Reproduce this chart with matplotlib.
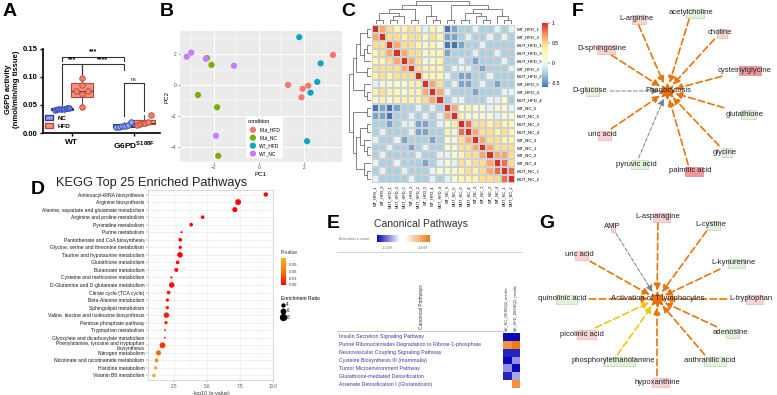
import numpy as np
import matplotlib
matplotlib.use("Agg")
import matplotlib.pyplot as plt
from matplotlib.colors import LinearSegmentedColormap, TwoSlopeNorm
from matplotlib.patches import Patch, Rectangle
from matplotlib.lines import Line2D
from matplotlib.transforms import blended_transform_factory

plt.rcParams['font.family'] = ['Liberation Sans', 'DejaVu Sans']
plt.rcParams['mathtext.fontset'] = 'custom'
plt.rcParams['mathtext.rm'] = 'Liberation Sans'
plt.rcParams['mathtext.bf'] = 'Liberation Sans:bold'

W, H = 777, 395

# ---------------- data ----------------
# A: G6PD activity
a_categories = ['WT', 'G6PD$^{\\mathbf{S188F}}$']
a_wt_nc = [0.041, 0.042, 0.043, 0.043, 0.044, 0.045]
a_wt_hfd = [0.046, 0.070, 0.075, 0.075, 0.086, 0.099]
a_mut_nc = [0.010, 0.011, 0.012, 0.012, 0.015, 0.020]
a_mut_hfd = [0.015, 0.016, 0.017, 0.018, 0.020, 0.033]

# B: PCA
b_conditions = ['Mut_HFD', 'Mut_NC', 'WT_HFD', 'WT_NC']
mut_hfd_pc1 = [3.3, 1.3, 1.95, 2.2, 1.9]
mut_hfd_pc2 = [1.95, 0.0, -0.25, -0.05, -0.8]
mut_nc_pc1 = [-2.3, -2.1, -2.7, -1.85, -1.8]
mut_nc_pc2 = [1.75, 1.3, -0.65, -1.45, -4.6]
wt_hfd_pc1 = [1.8, 2.75, 2.6, 2.3, 2.15]
wt_hfd_pc2 = [3.1, 1.4, 0.2, -0.5, -3.65]
wt_nc_pc1 = [-3.2, -3.0, -1.1, -1.9, -2.35]
wt_nc_pc2 = [1.83, 2.1, 1.25, -3.3, 1.7]

c_samples = ['WT_HFD_1', 'WT_HFD_3', 'MUT_HFD_1', 'MUT_HFD_3', 'MUT_HFD_5', 'WT_HFD_2',
             'MUT_HFD_2', 'WT_HFD_5', 'WT_HFD_4', 'MUT_HFD_4', 'WT_NC_5', 'MUT_NC_5',
             'MUT_NC_3', 'MUT_NC_4', 'WT_NC_3', 'WT_NC_1', 'WT_NC_2', 'WT_NC_4',
             'MUT_NC_1', 'MUT_NC_2']
c_levels = [
    "97655653540122322323",
    "79666646551123223232",
    "66976654540012232222",
    "56797664551222322322",
    "55679764452232122232",
    "66667965552333212223",
    "56566695553211223222",
    "34444559762311232122",
    "56554557973322122233",
    "45455556792332223322",
    "01012232329745443443",
    "11022323237954444344",
    "22123311234598665656",
    "23222311225489766565",
    "32231222124467976655",
    "22322123224466797666",
    "23222232233456679766",
    "32232221234365667976",
    "23223222344456567898",
    "32222322323455566689",
]
c_tree = (((((0, 1), ((2, 3), 4)), (5, 6)), (7, (8, 9))),
          ((10, 11), (((12, 13), (14, (15, 16))), (17, (18, 19)))))

# D: KEGG enrichment
d_pathways = ['Aminoacyl-tRNA biosynthesis', 'Arginine biosynthesis',
              'Alanine, aspartate and glutamate metabolism', 'Arginine and proline metabolism',
              'Pyrimidine metabolism', 'Purine metabolism', 'Pantothenate and CoA biosynthesis',
              'Glycine, serine and threonine metabolism', 'Taurine and hypotaurine metabolism',
              'Glutathione metabolism', 'Butanoate metabolism', 'Cysteine and methionine metabolism',
              'D-Glutamine and D-glutamate metabolism', 'Citrate cycle (TCA cycle)',
              'Beta-Alanine metabolism', 'Sphingolipid metabolism',
              'Valine, leucine and isoleucine biosynthesis', 'Pentose phosphate pathway',
              'Tryptophan metabolism', 'Glyoxylate and dicarboxylate metabolism',
              'Phenylalanine, tyrosine and tryptophan\nbiosynthesis', 'Nitrogen metabolism',
              'Nicotinate and nicotinamide metabolism', 'Histidine metabolism',
              'Vitamin B6 metabolism']
d_neglogp = [9.45, 7.35, 7.1, 4.65, 3.78, 3.05, 2.95, 2.95, 2.93, 2.75, 2.65, 2.28, 2.3,
             2.07, 1.97, 1.97, 1.9, 1.87, 1.8, 1.77, 1.6, 1.3, 1.15, 1.08, 0.95]
d_ratio = [6, 8, 7, 5, 5, 3, 5, 4.5, 7.5, 5, 5.5, 3, 7.5, 5, 4.5, 4.5, 7.5, 4.5, 2.5, 2.5,
           8, 7, 5, 4, 5]

# E: IPA canonical pathways
e_pathways = ['Insulin Secretion Signaling Pathway',
              'Purine Ribonucleosides Degradation to Ribose-1-phosphate',
              'Neurovascular Coupling Signaling Pathway', 'Cysteine Biosynthesis III (mammalia)',
              'Tumor Microenvironment Pathway', 'Glutathione-mediated Detoxification',
              'Arsenate Detoxification I (Glutaredoxin)']
e_columns = ['Val_NC_DESEQ2_results', 'Val_HFD_DESEQ2_results']
e_nc = [-2.236, 2.0, -2.0, -2.236, -1.0, -2.0, np.nan]
e_hfd = [-2.236, 2.449, -2.0, -1.0, -2.236, -0.8, 2.0]

# F / G: networks
f_hub = 'Phagocytosis'
f_nodes = ['L-arginine', 'acetylcholine', 'choline', 'D-sphingosine', 'cysteinylglycine',
           'D-glucose', 'glutathione', 'uric acid', 'glycine', 'pyruvic acid', 'palmitic acid']
f_change = ['up', 'down', 'up', 'up', 'up2', 'down', 'down', 'up', 'down', 'down', 'up2']
f_link = ['act', 'act', 'act', 'act', 'act', 'none', 'act', 'act', 'act', 'none', 'act']

g_hub = 'Activation of T lymphocytes'
g_nodes = ['L-asparagine', 'AMP', 'L-cystine', 'uric acid', 'L-kynurenine', 'quinolinic acid',
           'L-tryptophan', 'picolinic acid', 'adenosine', 'phosphorylethanolamine',
           'anthranilic acid', 'hypoxanthine']
g_change = ['up', 'up', 'down', 'up', 'down', 'down', 'up', 'up', 'down', 'down', 'down', 'up']
g_link = ['act', 'none', 'act', 'act', 'act', 'act', 'act', 'inc', 'act', 'inc', 'act', 'act']

# ---------------- layout ----------------
F_POS = {'L-arginine': (636, 19), 'acetylcholine': (691, 13), 'choline': (720, 33),
         'D-sphingosine': (602, 49), 'cysteinylglycine': (745, 70), 'D-glucose': (590, 91),
         'glutathione': (745, 114), 'uric acid': (602, 135), 'glycine': (725, 152),
         'pyruvic acid': (636, 164), 'palmitic acid': (690, 171)}
F_HUB = (667, 91)
G_POS = {'L-asparagine': (658, 217), 'AMP': (612, 227), 'L-cystine': (711, 225),
         'uric acid': (579, 255), 'L-kynurenine': (733, 263), 'quinolinic acid': (562, 299),
         'L-tryptophan': (751, 299), 'picolinic acid': (582, 334), 'adenosine': (730, 333),
         'phosphorylethanolamine': (613, 361), 'anthranilic acid': (710, 361),
         'hypoxanthine': (657, 382)}
G_HUB = (657, 299)
LINK_COL = {'act': '#E8740C', 'none': '#7f7f7f', 'inc': '#F2C414'}
CHG_COL = {'up': ('#f6d3d3', '#e3a5a5'), 'up2': ('#ee9a9a', '#d97070'),
           'down': ('#e2f0dc', '#a9cf9f')}


def px(x0, y0, x1, y1):
    return [x0 / W, 1 - y1 / H, (x1 - x0) / W, (y1 - y0) / H]


fig = plt.figure(figsize=(W / 100, H / 100), dpi=100)

# ---------------- A ----------------
axA = fig.add_axes(px(43, 45, 160, 133))
a_values = [a_wt_nc, a_wt_hfd, a_mut_nc, a_mut_hfd]
a_pos = [-0.16, 0.16, 0.84, 1.17]
box_face = ['#8fa0ee', '#f7927e', '#8fa0ee', '#f7927e']
box_edge = ['#2d3f9e', '#b8483a', '#2d3f9e', '#b8483a']
dot_face = ['#5a74dc', '#f0806e', '#8da6f2', '#f0806e']
# Prism style quartiles
stats = []
for vals in a_values:
    q1, med, q3 = np.percentile(vals, [25, 50, 75], method='weibull')
    stats.append(dict(med=med, q1=q1, q3=q3, whislo=min(vals), whishi=max(vals), fliers=[]))
bp = axA.bxp(stats, positions=a_pos, widths=0.36, patch_artist=True, showfliers=False,
             medianprops=dict(color='#444444', lw=0.8),
             whiskerprops=dict(color='#555555', lw=0.8), capprops=dict(lw=0),
             boxprops=dict(lw=0.8), manage_ticks=False)
for patch, fc, ec in zip(bp['boxes'], box_face, box_edge):
    patch.set_facecolor(fc)
    patch.set_edgecolor(ec)
for i, vals in enumerate(a_values):
    if i == 1:
        offs = np.array([0, 0, -0.1, 0.1, 0, 0])
    else:
        offs = np.linspace(-0.12, 0.12, len(vals))
    axA.scatter(a_pos[i] + offs, vals, s=16, fc=dot_face[i], ec=box_edge[i], lw=0.6, zorder=3)


def bracket(x1, x2, y, d1, d2, txt, bold=True):
    axA.plot([x1, x1, x2, x2], [d1, y, y, d2], color='#333333', lw=0.8, clip_on=False)
    axA.text((x1 + x2) / 2, y + 0.002, txt, ha='center', va='bottom',
             fontsize=5 if bold else 3.8, fontweight='bold' if bold else 'normal',
             clip_on=False)


bracket(a_pos[0], a_pos[2], 0.136, 0.128, 0.128, '***')
bracket(a_pos[0], a_pos[1], 0.123, 0.05, 0.105, '***')
bracket(a_pos[1], a_pos[2], 0.123, 0.105, 0.113, '****')
bracket(a_pos[2], a_pos[3], 0.089, 0.03, 0.04, 'ns', bold=False)

axA.set_xlim(-0.47, 1.43)
axA.set_ylim(0, 0.157)
axA.set_yticks([0, 0.05, 0.10, 0.15])
axA.set_yticklabels(['0.00', '0.05', '0.10', '0.15'], fontsize=5.5, fontweight='bold')
axA.set_xticks([0, 1])
axA.set_xticklabels(a_categories, fontsize=6, fontweight='bold')
axA.tick_params(length=2, width=1, pad=2)
for s in ['top', 'right']:
    axA.spines[s].set_visible(False)
for s in ['left', 'bottom']:
    axA.spines[s].set_linewidth(1.2)
axA.spines['left'].set_bounds(0, 0.15)
axA.set_ylabel('G6PD activity\n(nmol/min/mg tissue)', fontsize=5.5, fontweight='bold',
               labelpad=2, linespacing=1.1)
axA.legend(handles=[Patch(fc='#8fa0ee', ec='#2d3f9e', label='NC'),
                    Patch(fc='#f7927e', ec='#b8483a', label='HFD')],
           loc='lower left', bbox_to_anchor=(-0.02, 0.0), frameon=False,
           prop=dict(size=4.5, weight='bold'), handlelength=1.2, handleheight=1.0,
           labelspacing=0.3, borderaxespad=0.3)

# ---------------- B ----------------
axB = fig.add_axes(px(180, 31, 342, 162))
axB.set_facecolor('#EBEBEB')
b_colors = ['#F8766D', '#7CAE00', '#00A9C0', '#C77CFF']
b_x = [mut_hfd_pc1, mut_nc_pc1, wt_hfd_pc1, wt_nc_pc1]
b_y = [mut_hfd_pc2, mut_nc_pc2, wt_hfd_pc2, wt_nc_pc2]
for lab, col, xs, ys in zip(b_conditions, b_colors, b_x, b_y):
    axB.scatter(xs, ys, s=20, color=col, label=lab, zorder=3, edgecolors='none')
axB.set_xlim(-3.5, 3.7)
axB.set_ylim(-5.0, 3.5)
axB.set_xticks([-2, 0, 2])
axB.set_yticks([-4, -2, 0, 2])
axB.set_xticks([-3, -1, 1, 3], minor=True)
axB.set_yticks([-5, -3, -1, 1, 3], minor=True)
axB.grid(True, which='major', color='white', lw=0.7)
axB.grid(True, which='minor', color='white', lw=0.35)
axB.set_axisbelow(True)
for s in axB.spines.values():
    s.set_visible(False)
axB.tick_params(which='both', length=1.5, width=0.4, colors='#4D4D4D', labelsize=3.5, pad=1)
axB.tick_params(which='minor', length=0)
axB.set_xlabel('PC1', fontsize=4.5, labelpad=1)
axB.set_ylabel('PC2', fontsize=4.5, labelpad=1)
legB = axB.legend(title='condition', loc='lower left', bbox_to_anchor=(0.39, 0.01),
                  fontsize=3.5, title_fontsize=4, frameon=True, facecolor='white',
                  edgecolor='none', framealpha=1, markerscale=1.0, handletextpad=0.3,
                  labelspacing=0.6, borderpad=0.5)
legB._legend_box.align = 'left'

# ---------------- C ----------------
lvl = np.array([[int(ch) for ch in row] for row in c_levels], dtype=float)
corr = -0.6 + lvl * 1.6 / 9
corr = np.tril(corr) + np.tril(corr, -1).T
ph_cmap = LinearSegmentedColormap.from_list(
    'ph', ['#4575B4', '#91BFDB', '#E0F3F8', '#FFFFBF', '#FEE090', '#FC8D59', '#D73027'])
axC = fig.add_axes(px(372, 25, 515, 183))
mesh = axC.pcolormesh(corr, cmap=ph_cmap, vmin=-0.6, vmax=1.0, edgecolors='#d0d0d0', lw=0.3)
axC.set_xlim(0, 20)
axC.set_ylim(20, 0)
axC.yaxis.tick_right()
axC.set_yticks(np.arange(20) + 0.5)
axC.set_yticklabels(c_samples, fontsize=3.2)
axC.set_xticks(np.arange(20) + 0.5)
axC.set_xticklabels(c_samples, fontsize=2.8, rotation=90)
axC.tick_params(length=0, pad=1.5)
for s in axC.spines.values():
    s.set_visible(False)

caxC = fig.add_axes(px(542, 23, 548, 87))
cbC = fig.colorbar(mesh, cax=caxC, ticks=[-0.5, 0, 0.5, 1])
cbC.ax.set_yticklabels(['-0.5', '0', '0.5', '1'])
cbC.ax.tick_params(labelsize=3.5, length=1.5, width=0.3, pad=1)
cbC.outline.set_visible(False)

dtop = fig.add_axes(px(372, 1, 515, 24))
dleft = fig.add_axes(px(349, 25, 371, 183))


def dendro(node, ax, orient):
    if isinstance(node, int):
        return node + 0.5, 0
    xa, ha = dendro(node[0], ax, orient)
    xb, hb = dendro(node[1], ax, orient)
    h = max(ha, hb) + 1
    xs, ys = [xa, xa, xb, xb], [ha, h, h, hb]
    if orient == 'top':
        ax.plot(xs, ys, color='#555555', lw=0.5)
    else:
        ax.plot(ys, xs, color='#555555', lw=0.5)
    return (xa + xb) / 2, h


_, ht = dendro(c_tree, dtop, 'top')
dendro(c_tree, dleft, 'left')
dtop.set_xlim(0, 20)
dtop.set_ylim(0, ht)
dleft.set_ylim(20, 0)
dleft.set_xlim(ht, 0)
dtop.axis('off')
dleft.axis('off')

# ---------------- D ----------------
axD = fig.add_axes(px(148, 190, 273, 380))
d_cmap = LinearSegmentedColormap.from_list('pv', ['#ff0000', '#ff7a00', '#f5b030'])
yD = np.arange(len(d_pathways))
pvals = 10 ** (-np.array(d_neglogp))
scD = axD.scatter(d_neglogp, yD, s=0.28 * np.array(d_ratio) ** 2, c=pvals, cmap=d_cmap,
                  vmin=0, vmax=0.116, edgecolors='none', zorder=3)
axD.set_ylim(24.6, -0.6)
axD.set_xlim(0.5, 10.0)
axD.set_yticks(yD)
axD.set_yticklabels(d_pathways, fontsize=3.6, linespacing=0.95)
axD.set_xticks([2.5, 5.0, 7.5, 10.0])
axD.set_xticklabels(['2.5', '5.0', '7.5', '10.0'])
axD.set_xticks([1.25, 3.75, 6.25, 8.75], minor=True)
axD.grid(True, which='major', color='#e6e6e6', lw=0.4)
axD.grid(True, which='minor', color='#f2f2f2', lw=0.3)
axD.set_axisbelow(True)
axD.tick_params(which='both', length=1.2, width=0.3, colors='#555555', labelsize=3.3, pad=1.5)
axD.tick_params(axis='y', labelcolor='#1a1a1a', labelsize=3.6)
axD.tick_params(which='minor', length=0)
for s in axD.spines.values():
    s.set_color('#cccccc')
    s.set_linewidth(0.5)
axD.set_xlabel('-log10 (p-value)', fontsize=3.8, color='#333333', labelpad=1.5)
fig.text(152 / W, 1 - 183 / H, 'KEGG Top 25 Enriched Pathways', fontsize=9.2,
         ha='center', va='center', color='#222222')

caxD = fig.add_axes(px(281, 258, 286, 285))
cbD = fig.colorbar(scD, cax=caxD, ticks=[0, 0.03, 0.06, 0.09])
cbD.ax.set_yticklabels(['0.00', '0.03', '0.06', '0.09'])
cbD.ax.tick_params(labelsize=3.2, length=1, width=0.3, pad=1, colors='#444444')
cbD.outline.set_visible(False)
size_handles = [Line2D([], [], ls='', marker='o', color='black',
                       markersize=np.sqrt(0.28 * r ** 2), label=str(r)) for r in [4, 6, 8]]
fig.legend(handles=size_handles, title='Enrichment Ratio', loc='upper left',
           bbox_to_anchor=(278 / W, 1 - 293 / H), frameon=False, fontsize=3.3,
           title_fontsize=3.6, handletextpad=0.3, labelspacing=0.25, borderpad=0.2,
           handlelength=0.8)._legend_box.align = 'left'

# ---------------- E ----------------
axE = fig.add_axes(px(503, 333, 520, 388))
e_cmap = LinearSegmentedColormap.from_list('z', ['#0a0ab8', '#ffffff', '#f07a14'])
e_norm = TwoSlopeNorm(vmin=-2.236, vcenter=0, vmax=2.449)
e_grid = np.ma.masked_invalid(np.array([e_nc, e_hfd]).T)
axE.pcolormesh(e_grid, cmap=e_cmap, norm=e_norm, edgecolors='none')
axE.set_xlim(0, 2)
axE.set_ylim(7, 0)
axE.set_xticks([])
axE.set_yticks([])
for s in axE.spines.values():
    s.set_visible(False)
for j, name in enumerate(e_columns):
    axE.text(j + 0.5, -0.3, name, rotation=90, ha='center', va='bottom', fontsize=2.8,
             color='#333333')

# overlay in pixel coordinates
ov = fig.add_axes([0, 0, 1, 1])
ov.set_xlim(0, W)
ov.set_ylim(H, 0)
ov.axis('off')
ov.patch.set_alpha(0)

ov.text(281, 253, 'P-value', ha='left', va='center', fontsize=3.6, color='#333333')

trE = blended_transform_factory(ov.transData, axE.transData)
for i, name in enumerate(e_pathways):
    ov.text(339, i + 0.5, name, transform=trE, ha='left', va='center', fontsize=3.8,
            color='#3b3b9e')
ov.plot([337, 522], [252, 252], color='#cfcfcf', lw=0.6)
ov.plot([337, 505], [331, 331], color='#bdbdbd', lw=0.6)
ov.text(422, 307, 'Canonical Pathways', rotation=90, ha='center', va='center', fontsize=3.5,
        color='#333333')
ov.text(421, 224, 'Canonical Pathways', ha='center', va='center', fontsize=7.5,
        color='#333333')
ov.text(339, 239, 'Activation z-score', ha='left', va='center', fontsize=2.8, color='#777777')
gb = fig.add_axes(px(377, 235, 400, 242))
gb.imshow(np.linspace(-2.236, 0, 50)[None, :], cmap=e_cmap, norm=e_norm, aspect='auto')
go = fig.add_axes(px(405, 235, 429, 242))
go.imshow(np.linspace(0, 2.449, 50)[None, :], cmap=e_cmap, norm=e_norm, aspect='auto')
for a in (gb, go):
    a.axis('off')
ov.text(388, 248, '-2.236', ha='center', va='center', fontsize=3, color='#777777')
ov.text(423, 248, '2.449', ha='center', va='center', fontsize=3, color='#777777')


# ---------------- F / G networks ----------------
def network(hub_name, hub_xy, nodes, changes, links, pos):
    for name, chg, lk in zip(nodes, changes, links):
        x, y = pos[name]
        n = len(name)
        w = 0.36 * n * 3.9
        fc, ec = CHG_COL[chg]
        ov.add_patch(Rectangle((x + 0.08 * n * 3.9 - w / 2, y - 4.5), w, 9, fc=fc, ec=ec,
                               lw=0.4, zorder=1))
        ov.annotate(name, xy=hub_xy, xytext=(x, y), ha='center', va='center', fontsize=5.5,
                    color='#222222', zorder=3,
                    arrowprops=dict(arrowstyle='-|>', color=LINK_COL[lk],
                                    lw=1.2 if lk != 'none' else 0.7,
                                    linestyle=(0, (4, 2)), shrinkA=0, shrinkB=6,
                                    mutation_scale=10))
    ov.plot(*hub_xy, marker=(8, 1, 0), ms=11, color='#E8700A', zorder=2)
    ov.text(hub_xy[0] + 1, hub_xy[1], hub_name, ha='center', va='center', fontsize=5.5,
            color='#222222', zorder=4)


network(f_hub, F_HUB, f_nodes, f_change, f_link, F_POS)
network(g_hub, G_HUB, g_nodes, g_change, g_link, G_POS)

# panel letters
for letter, x, y in [('A', 10, 11), ('B', 167, 11), ('C', 348, 11), ('F', 578, 11),
                     ('D', 38, 190), ('E', 333, 224), ('G', 547, 224)]:
    ov.text(x, y, letter, fontsize=14, fontweight='bold', ha='center', va='center')

fig.savefig('out.png', dpi=100)
